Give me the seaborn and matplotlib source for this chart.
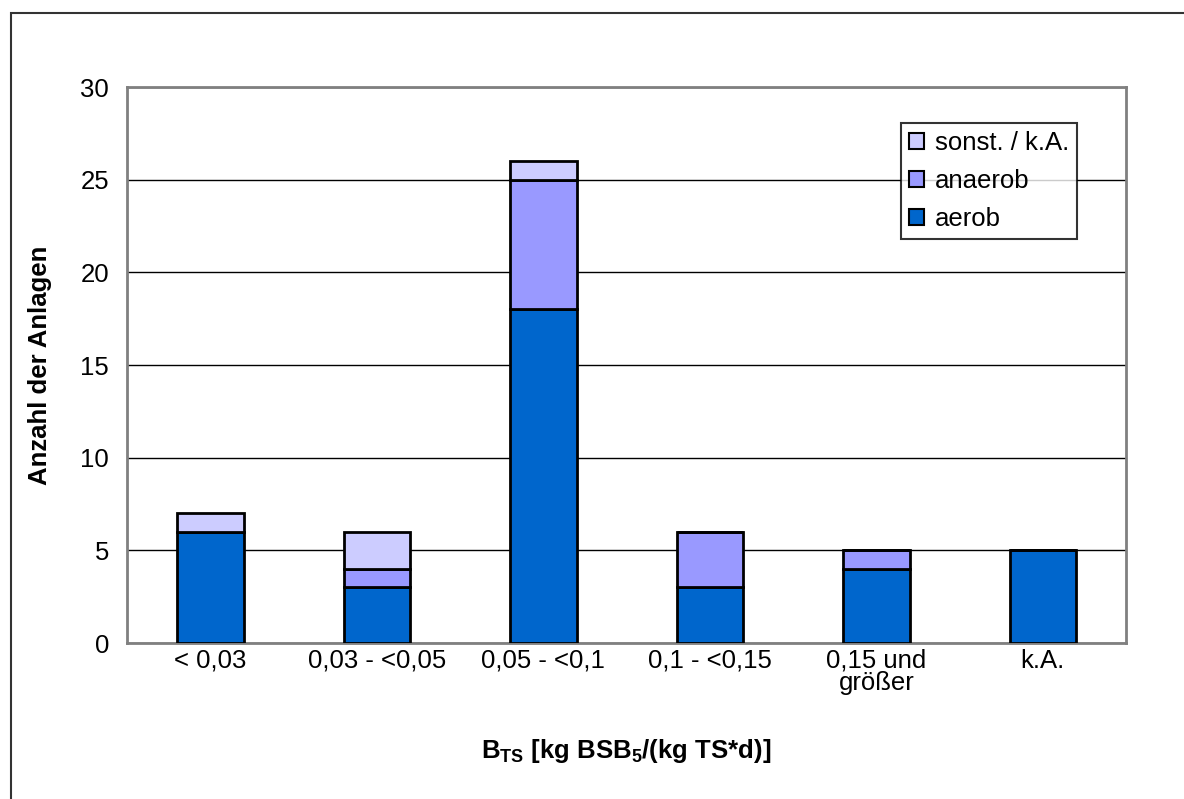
import pandas as pd
import seaborn as sns
import matplotlib.pyplot as plt
from matplotlib.patches import Rectangle

categories = ['< 0,03', '0,03 - <0,05', '0,05 - <0,1', '0,1 - <0,15', '0,15 und\ngrößer', 'k.A.']
aerob = [6, 3, 18, 3, 4, 5]
anaerob = [0, 1, 7, 3, 1, 0]
sonst = [1, 2, 1, 0, 0, 0]
series_names = ['sonst. / k.A.', 'anaerob', 'aerob']
colors = {'sonst. / k.A.': '#CCCCFF', 'anaerob': '#9999FF', 'aerob': '#0066CC'}

rows = []
for name, vals in [('aerob', aerob), ('anaerob', anaerob), ('sonst. / k.A.', sonst)]:
    for c, v in zip(categories, vals):
        if v > 0:
            rows.append({'Klasse': c, 'Art': name, 'Anzahl': v})
df = pd.DataFrame(rows)

sns.set_style('white')
plt.rcParams['font.family'] = ['Liberation Sans', 'DejaVu Sans']
plt.rcParams['text.color'] = 'black'
plt.rcParams['axes.labelcolor'] = 'black'
plt.rcParams['xtick.color'] = 'black'
plt.rcParams['ytick.color'] = 'black'
plt.rcParams['mathtext.fontset'] = 'custom'
plt.rcParams['mathtext.rm'] = 'Liberation Sans:bold'
plt.rcParams['mathtext.it'] = 'Liberation Sans:bold'
plt.rcParams['mathtext.bf'] = 'Liberation Sans:bold'

fs = 18.5
fig = plt.figure(figsize=(11.84, 7.99), dpi=100)
ax = fig.add_axes([0.1073, 0.1952, 0.8438, 0.6959])

sns.histplot(data=df, x='Klasse', weights='Anzahl', hue='Art', hue_order=series_names,
             multiple='stack', shrink=0.4, palette=colors, alpha=1,
             edgecolor='black', linewidth=2, ax=ax, zorder=3)

ax.set_xlim(-0.5, 5.5)
ax.set_ylim(0, 30)
ax.set_yticks(range(0, 31, 5))
ax.yaxis.grid(True, color='black', linewidth=1, zorder=0)
ax.set_axisbelow(True)
ax.set_xticks(range(len(categories)))
ax.set_xticklabels(categories, fontsize=fs, linespacing=0.93)
ax.set_xticks([i - 0.5 for i in range(len(categories) + 1)], minor=True)
ax.tick_params(axis='x', which='major', length=0, pad=4)
ax.tick_params(axis='x', which='minor', length=8, width=1.5, color='#404040', direction='out')
ax.tick_params(axis='y', length=8, width=1.5, color='#404040', direction='out', labelsize=fs, pad=5)
for s in ax.spines.values():
    s.set_color('#808080')
    s.set_linewidth(2)

ax.set_ylabel('Anzahl der Anlagen', fontsize=fs, fontweight='bold', labelpad=20)
ax.set_xlabel(r'B$_{\rm TS}$ [kg BSB$_{\rm 5}$/(kg TS*d)]', fontsize=fs, fontweight='bold', labelpad=30)

sns.move_legend(ax, 'upper left', bbox_to_anchor=(0.775, 0.935), title=None, fontsize=fs,
                frameon=True, fancybox=False, edgecolor='black', handlelength=0.6,
                handleheight=0.6, handletextpad=0.4, labelspacing=0.55, borderpad=0.3,
                borderaxespad=0)
leg = ax.get_legend()
leg.get_frame().set_linewidth(1.5)
for h in leg.legend_handles:
    h.set_edgecolor('black')
    h.set_linewidth(1.5)

fig.patches.append(Rectangle((0.0095, -0.1), 1.2, 1.084, transform=fig.transFigure,
                             fill=False, edgecolor='#333333', linewidth=1.5))

fig.savefig('out.png', dpi=100)
plt.close(fig)
